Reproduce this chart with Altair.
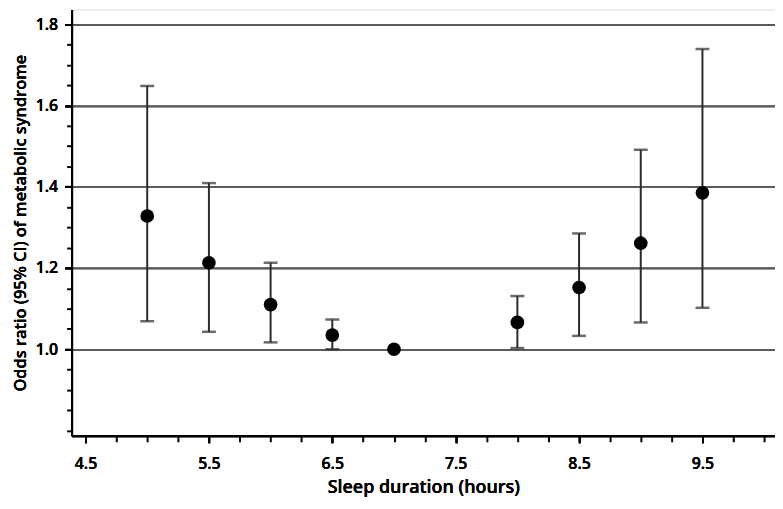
import altair as alt
import pandas as pd

sleep_hours = [5, 5.5, 6, 6.5, 7, 8, 8.5, 9, 9.5]
odds_ratio = [1.328, 1.213, 1.110, 1.035, 1.000, 1.066, 1.152, 1.261, 1.385]
ci_lower = [1.069, 1.043, 1.017, 1.000, None, 1.003, 1.033, 1.066, 1.102]
ci_upper = [1.648, 1.409, 1.213, 1.073, None, 1.131, 1.285, 1.491, 1.739]

x_major = [4.5, 5.5, 6.5, 7.5, 8.5, 9.5]
x_minor = [4.5 + 0.25 * i for i in range(23)]
y_major = [1.0, 1.2, 1.4, 1.6, 1.8]
y_minor = [round(0.8 + 0.05 * i, 2) for i in range(21)]

df = pd.DataFrame({"sleep": sleep_hours, "odds": odds_ratio,
                   "lo": ci_lower, "hi": ci_upper})

FONT = "Open Sans"
xscale = alt.Scale(domain=[4.387, 10.088], nice=False, zero=False)
yscale = alt.Scale(domain=[0.787, 1.836], nice=False, zero=False)

x_major_axis = alt.Axis(values=x_major, orient="bottom", grid=False,
                        domainColor="black", domainWidth=2, tickColor="black",
                        tickWidth=2, tickSize=7, labelFont=FONT, labelFontSize=16,
                        labelFontWeight=600, labelColor="black", labelPadding=13,
                        titleFont=FONT, titleFontSize=18, titleFontWeight=600,
                        titleColor="black", titlePadding=7, format=".1f")
y_major_axis = alt.Axis(values=y_major, orient="left", grid=True,
                        gridColor="#5a5a5a", gridWidth=1.8,
                        domainColor="black", domainWidth=2, tickColor="black",
                        tickWidth=2, tickSize=7, labelFont=FONT, labelFontSize=16,
                        labelFontWeight=600, labelColor="black", labelPadding=7,
                        titleFont=FONT, titleFontSize=16.5, titleFontWeight=600,
                        titleColor="black", titlePadding=7, format=".1f")
x_minor_axis = alt.Axis(values=x_minor, orient="bottom", grid=False, labels=False,
                        domain=False, tickColor="black", tickWidth=2, tickSize=6)
y_minor_axis = alt.Axis(values=y_minor, orient="left", grid=False, labels=False,
                        domain=False, tickColor="black", tickWidth=2, tickSize=5)

base = alt.Chart(df)

bars = base.mark_rule(color="#2b2b2b", strokeWidth=2).encode(
    x=alt.X("sleep:Q", scale=xscale, axis=x_major_axis, title="Sleep duration (hours)"),
    y=alt.Y("lo:Q", scale=yscale, axis=y_major_axis,
            title="Odds ratio (95% CI) of metabolic syndrome"),
    y2="hi:Q",
)
caps_hi = base.mark_tick(color="#2b2b2b", thickness=2.5, size=14, orient="horizontal").encode(
    x=alt.X("sleep:Q", scale=xscale, axis=x_major_axis, title="Sleep duration (hours)"),
    y=alt.Y("hi:Q", scale=yscale, axis=y_major_axis,
            title="Odds ratio (95% CI) of metabolic syndrome"),
)
caps_lo = base.mark_tick(color="#2b2b2b", thickness=2.5, size=14, orient="horizontal").encode(
    x=alt.X("sleep:Q", scale=xscale, axis=x_major_axis, title="Sleep duration (hours)"),
    y=alt.Y("lo:Q", scale=yscale, axis=y_major_axis,
            title="Odds ratio (95% CI) of metabolic syndrome"),
)
points = base.mark_circle(color="black", opacity=1, size=190).encode(
    x=alt.X("sleep:Q", scale=xscale, axis=x_minor_axis, title=None),
    y=alt.Y("odds:Q", scale=yscale, axis=y_minor_axis, title=None),
)

chart = alt.layer(bars, caps_hi, caps_lo, points).resolve_axis(
    x="independent", y="independent"
).properties(
    width=708, height=429,
    autosize=alt.AutoSizeParams(type="none"),
    padding={"left": 64, "top": 0, "right": 0, "bottom": 62},
).configure_view(
    stroke="black", strokeWidth=1.5
).configure(background="white")

chart.save("out.html", embed_options={"renderer": "svg", "actions": False})
